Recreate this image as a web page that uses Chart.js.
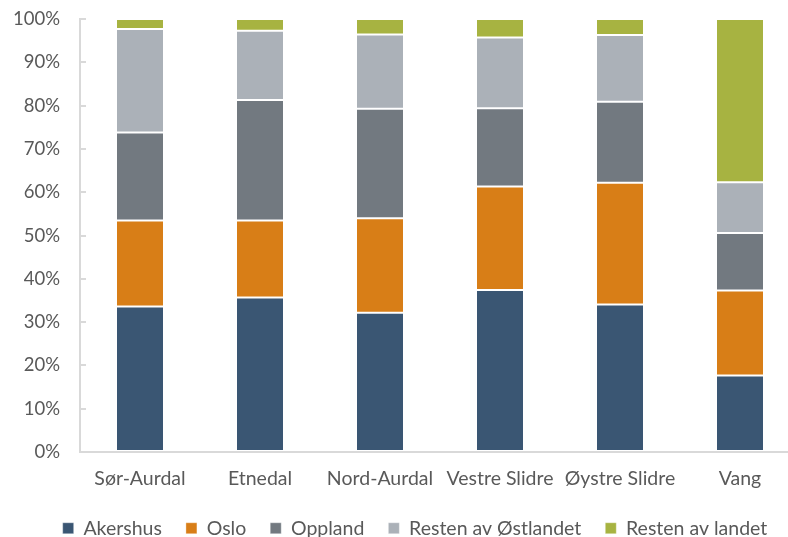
<!DOCTYPE html>
<html>
<head>
<meta charset="utf-8">
<script src="https://cdn.jsdelivr.net/npm/chart.js@4/dist/chart.umd.min.js"></script>
<style>
  html, body { margin: 0; padding: 0; background: #fff; overflow: hidden; width: 788px; height: 537px; }
  #wrap { width: 800px; height: 537px; }
</style>
</head>
<body>
<div id="wrap"><canvas id="chart"></canvas></div>
<script>
// Kommuner
const categories = ["Sør-Aurdal", "Etnedal", "Nord-Aurdal", "Vestre Slidre", "Øystre Slidre", "Vang"];

// Andel (%) per region
const akershus = [33.6, 35.7, 32.2, 37.4, 34.1, 17.7];
const oslo = [19.9, 17.8, 21.8, 23.9, 28.1, 19.6];
const oppland = [20.3, 27.8, 25.3, 18.1, 18.7, 13.3];
const restenOstlandet = [23.9, 16.0, 17.1, 16.3, 15.4, 11.7];
const restenLandet = [2.3, 2.7, 3.6, 4.3, 3.7, 37.7];

const textColor = "#595959";
const fontFamily = "Lato, 'Liberation Sans', sans-serif";

// nudge the legend into the same spot as the original
const shiftLegend = {
  id: "shiftLegend",
  afterLayout(chart) {
    const lg = chart.legend;
    lg.left += 15;
    lg.right += 15;
    lg.top -= 11;
    lg.bottom -= 11;
  }
};

function ds(label, data, color) {
  return {
    label: label,
    data: data,
    backgroundColor: color,
    borderColor: "rgba(255,255,255,0.35)",
    borderWidth: 1,
    borderSkipped: false,
    categoryPercentage: 0.4,
    barPercentage: 1
  };
}

const ctx = document.getElementById("chart").getContext("2d");
const chart = new Chart(ctx, {
  type: "bar",
  data: {
    labels: categories,
    datasets: [
      ds("Akershus", akershus, "#3a5673"),
      ds("Oslo", oslo, "#d87e17"),
      ds("Oppland", oppland, "#727980"),
      ds("Resten av Østlandet", restenOstlandet, "#abb1b8"),
      ds("Resten av landet", restenLandet, "#a7b341")
    ]
  },
  plugins: [shiftLegend],
  options: {
    responsive: true,
    maintainAspectRatio: false,
    animation: false,
    layout: { padding: { top: 19, left: 0, right: 0, bottom: -22 } },
    plugins: {
      tooltip: { enabled: false },
      legend: {
        position: "bottom",
        labels: {
          color: textColor,
          font: { family: fontFamily, size: 19.5 },
          boxWidth: 11,
          boxHeight: 11,
          padding: 24
        }
      }
    },
    scales: {
      x: {
        stacked: true,
        grid: { display: false, drawTicks: false },
        border: { color: "#d9d9d9", width: 2 },
        ticks: { color: textColor, font: { family: fontFamily, size: 19.5 }, padding: 15, maxRotation: 0 }
      },
      y: {
        stacked: true,
        min: 0,
        max: 100,
        grid: { display: true, drawOnChartArea: false, color: "#d9d9d9", lineWidth: 2, tickLength: -6 },
        border: { color: "#d9d9d9", width: 2 },
        ticks: {
          stepSize: 10,
          color: textColor,
          font: { family: fontFamily, size: 18.5 },
          padding: 26,
          callback: v => v + "%"
        },
        afterFit: s => {
          s.width = 80;
          s.paddingTop = 0;
          s.paddingBottom = 0;
        }
      }
    }
  }
});
</script>
</body>
</html>
